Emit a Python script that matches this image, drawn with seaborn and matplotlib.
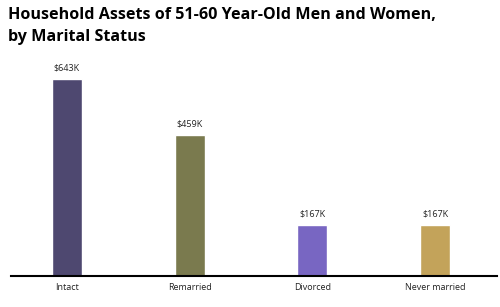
import pandas as pd
import matplotlib.pyplot as plt
import seaborn as sns

# === Data
statuses = ['Intact', 'Remarried', 'Divorced', 'Never married']
assets_k = [643, 459, 167, 167]
value_labels = ['$643K', '$459K', '$167K', '$167K']
bar_colors = ['#4e4870', '#7a7a4e', '#7866c2', '#c3a35a']

df = pd.DataFrame({'Status': statuses, 'Assets': assets_k})

# === Plot
sns.set_theme(style='white')
plt.rcParams['font.family'] = ['Open Sans', 'DejaVu Sans']

fig = plt.figure(figsize=(5, 3.07), dpi=100)
ax = fig.add_axes([0.022, 0.101, 0.972, 0.704])

sns.barplot(data=df, x='Status', y='Assets', hue='Status', palette=bar_colors,
            width=0.245, legend=False, ax=ax, saturation=1)

for i, (v, lab) in enumerate(zip(assets_k, value_labels)):
    ax.text(i, v + 22, lab, ha='center', va='bottom', fontsize=6.5, color='#222222')

ax.set_xlim(-0.456, 3.505)
ax.set_ylim(0, 705)
ax.set_xlabel('')
ax.set_ylabel('')
ax.set_yticks([])
ax.tick_params(axis='x', length=0, pad=5, labelsize=6.5, labelcolor='#222222')
for side in ['top', 'right', 'left']:
    ax.spines[side].set_visible(False)
ax.spines['bottom'].set_color('black')
ax.spines['bottom'].set_linewidth(1.5)

fig.text(0.016, 0.938, 'Household Assets of 51-60 Year-Old Men and Women,',
         fontsize=11.6, fontweight='bold', color='black', va='baseline')
fig.text(0.016, 0.866, 'by Marital Status',
         fontsize=11.6, fontweight='bold', color='black', va='baseline')

fig.savefig('out.png', dpi=100)
